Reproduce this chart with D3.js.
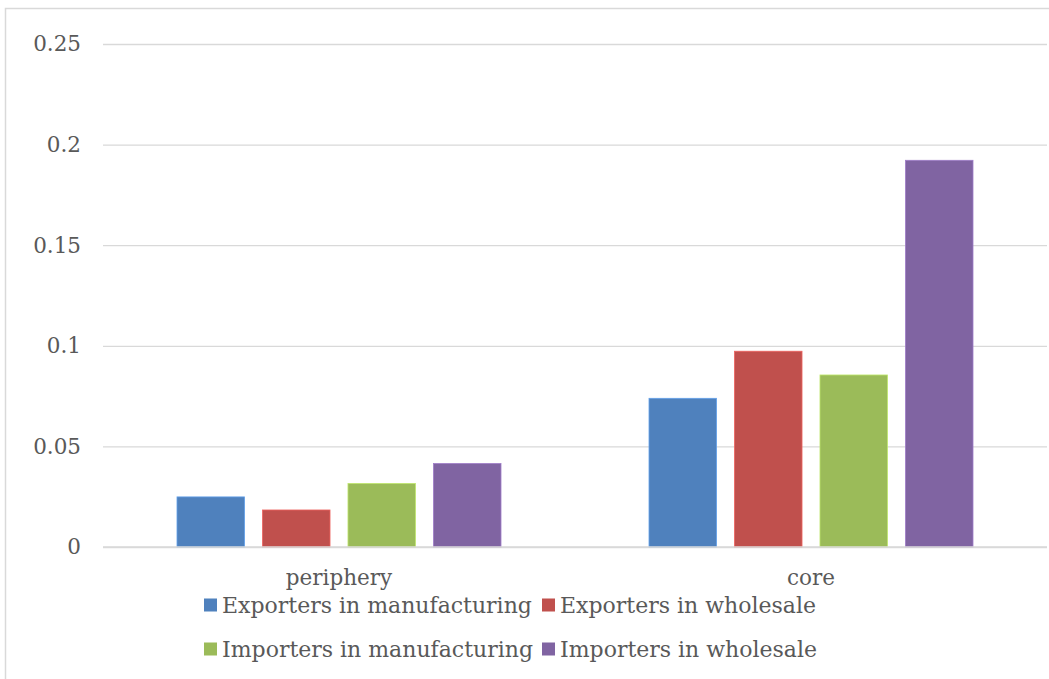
<!DOCTYPE html>
<html>
<head>
<meta charset="utf-8">
<script src="https://cdn.jsdelivr.net/npm/d3@7"></script>
<style>
  html, body { margin: 0; padding: 0; background: #fff; }
  svg { display: block; }
  text { font-family: "DejaVu Serif", "Liberation Serif", serif; fill: #595959; }
</style>
</head>
<body>
<svg id="chart" width="1049" height="679"></svg>
<script>
// Categories and series
const categories = ["periphery", "core"];
const seriesNames = [
  "Exporters in manufacturing",
  "Exporters in wholesale",
  "Importers in manufacturing",
  "Importers in wholesale"
];
const seriesColors = ["#4F81BD", "#C0504D", "#9BBB59", "#8064A2"];
// Values per series, in category order [periphery, core]
const exportersManufacturing = [0.0249, 0.0739];
const exportersWholesale     = [0.0184, 0.0973];
const importersManufacturing = [0.0316, 0.0855];
const importersWholesale     = [0.0415, 0.1922];
const seriesValues = [exportersManufacturing, exportersWholesale, importersManufacturing, importersWholesale];
const yTicks = [0, 0.05, 0.1, 0.15, 0.2, 0.25];
const yTickLabels = ["0", "0.05", "0.1", "0.15", "0.2", "0.25"];

const svg = d3.select("#chart");
const W = 1049, H = 679;
const fontSize = 21.5;

// Outer chart frame
svg.append("rect")
  .attr("x", 5.5).attr("y", 8.5)
  .attr("width", W + 10).attr("height", H + 10)
  .attr("fill", "#fff").attr("stroke", "#d9d9d9").attr("stroke-width", 1.5);

const plot = { left: 103, right: 1047, top: 44, bottom: 547 };

const y = d3.scaleLinear().domain([0, 0.25]).range([plot.bottom, plot.top]);
const x0 = d3.scaleBand().domain(categories).range([plot.left, plot.right]).padding(0);
const groupPad = 74;
const x1 = d3.scaleBand().domain(d3.range(seriesNames.length))
  .range([groupPad, x0.bandwidth() - groupPad]).paddingInner(0.21).paddingOuter(0);

// Gridlines and value labels
const yAxis = d3.axisLeft(y).tickValues(yTicks)
  .tickFormat((d, i) => yTickLabels[i])
  .tickSize(-(plot.right - plot.left)).tickPadding(22);
const gy = svg.append("g").attr("transform", `translate(${plot.left},0)`).call(yAxis);
gy.select(".domain").remove();
gy.selectAll(".tick line").attr("stroke", "#d9d9d9").attr("stroke-width", 1.3);
gy.selectAll(".tick text")
  .attr("font-size", fontSize).attr("fill", "#595959")
  .style("font-family", "DejaVu Serif, serif");

// Bars
const groups = svg.append("g").selectAll("g")
  .data(categories).join("g")
  .attr("transform", d => `translate(${x0(d)},0)`);

groups.selectAll("rect")
  .data((c, ci) => seriesValues.map((vals, si) => ({ si, v: vals[ci] })))
  .join("rect")
  .attr("x", d => x1(d.si))
  .attr("width", x1.bandwidth())
  .attr("y", d => y(d.v))
  .attr("height", d => y(0) - y(d.v))
  .attr("fill", d => seriesColors[d.si])
  .attr("stroke", d => d3.color(seriesColors[d.si]).brighter(0.6))
  .attr("stroke-width", 0.8);

// Baseline
svg.append("line")
  .attr("x1", plot.left).attr("x2", plot.right)
  .attr("y1", y(0)).attr("y2", y(0))
  .attr("stroke", "#d9d9d9").attr("stroke-width", 1.6);

// Category labels
const xAxis = d3.axisBottom(x0).tickSize(0).tickPadding(23);
const gx = svg.append("g").attr("transform", `translate(0,${plot.bottom})`).call(xAxis);
gx.select(".domain").remove();
gx.selectAll(".tick text")
  .attr("font-size", fontSize).attr("fill", "#595959")
  .style("font-family", "DejaVu Serif, serif");

// Legend (two columns, two rows)
const legendPos = [
  { x: 204, y: 605 }, { x: 542, y: 605 },
  { x: 204, y: 649 }, { x: 542, y: 649 }
];
const legend = svg.append("g").selectAll("g")
  .data(seriesNames).join("g")
  .attr("transform", (d, i) => `translate(${legendPos[i].x},${legendPos[i].y})`);
legend.append("rect")
  .attr("x", 0).attr("y", -6.5).attr("width", 13).attr("height", 13)
  .attr("fill", (d, i) => seriesColors[i]);
legend.append("text")
  .attr("x", 18).attr("y", 0).attr("dy", "0.35em")
  .attr("font-size", 22)
  .text(d => d);
</script>
</body>
</html>
